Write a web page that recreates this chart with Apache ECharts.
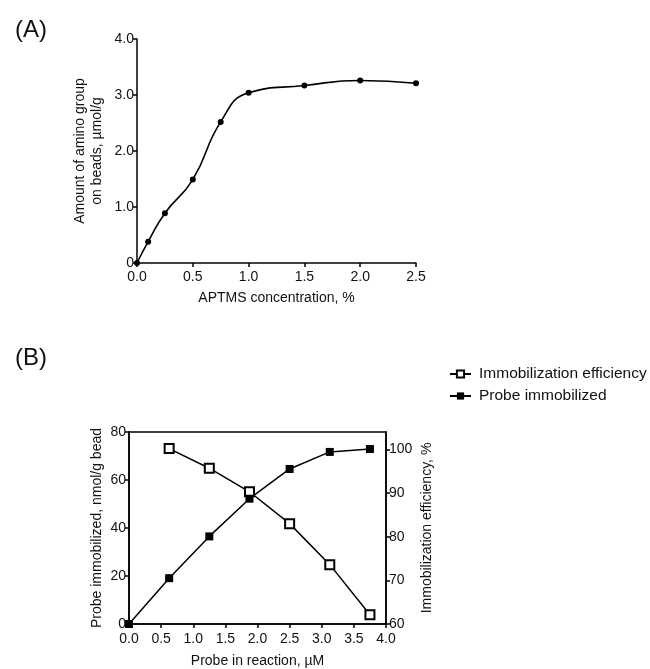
<!DOCTYPE html>
<html>
<head>
<meta charset="utf-8">
<script src="https://cdn.jsdelivr.net/npm/echarts@6/dist/echarts.min.js"></script>
<style>
  html, body { margin: 0; padding: 0; background: #fff; }
  #chart { width: 650px; height: 669px; }
</style>
</head>
<body>
<div id="chart"></div>
<script>
// (A) amino group vs APTMS concentration
const aptmsConc = [0, 0.1, 0.25, 0.5, 0.75, 1.0, 1.5, 2.0, 2.5]
const aminoAmount = [0, 0.38, 0.89, 1.49, 2.52, 3.04, 3.17, 3.26, 3.21]

// (B) probe immobilization
const probeConc = [0, 0.625, 1.25, 1.875, 2.5, 3.125, 3.75]
const probeImmobilized = [0, 19.1, 36.5, 52.2, 64.6, 71.7, 72.9]
const effConc = [0.625, 1.25, 1.875, 2.5, 3.125, 3.75]
const efficiency = [100.2, 95.7, 90.3, 83.0, 73.6, 62.1]

const font = 'Liberation Sans, Arial, sans-serif'
const ink = '#111'

function pairs(xs, ys) {
  return xs.map((x, i) => [x, ys[i]])
}

// 常用轴样式
function axisStyle(extra) {
  return Object.assign({
    axisLine: { show: true, onZero: false, lineStyle: { color: '#000', width: 1.5 } },
    axisTick: { show: true, inside: false, length: 4, lineStyle: { color: '#000', width: 1.5 } },
    splitLine: { show: false },
    axisLabel: { color: ink, fontFamily: font, fontSize: 14, margin: 3 },
    nameTextStyle: { color: ink, fontFamily: font, fontSize: 14 },
    nameLocation: 'middle'
  }, extra)
}

const chart = echarts.init(document.getElementById('chart'), null, { renderer: 'canvas' })

chart.setOption({
  backgroundColor: '#fff',
  animation: false,
  title: [
    { text: '(A)', left: 10, top: 13, textStyle: { fontFamily: font, fontSize: 24, fontWeight: 'normal', color: ink } },
    { text: '(B)', left: 10, top: 341, textStyle: { fontFamily: font, fontSize: 24, fontWeight: 'normal', color: ink } }
  ],
  legend: {
    orient: 'vertical',
    left: 444,
    top: 361,
    itemGap: 6,
    itemWidth: 21,
    itemHeight: 9,
    textStyle: { fontFamily: font, fontSize: 15.5, color: ink, padding: [0, 0, 0, 3] },
    data: ['Immobilization efficiency', 'Probe immobilized']
  },
  grid: [
    { left: 137, top: 39, width: 279, height: 224, containLabel: false },
    { left: 129, top: 432, width: 257, height: 192, containLabel: false, show: true, borderColor: '#000', borderWidth: 1.5 }
  ],
  xAxis: [
    axisStyle({
      gridIndex: 0, type: 'value', min: 0, max: 2.5, interval: 0.5,
      name: 'APTMS concentration, %', nameGap: 28,
      axisLabel: { color: ink, fontFamily: font, fontSize: 14, margin: 7, formatter: v => v.toFixed(1) }
    }),
    axisStyle({
      gridIndex: 1, type: 'value', min: 0, max: 4, interval: 0.5,
      name: 'Probe in reaction, µM', nameGap: 30,
      axisLabel: { color: ink, fontFamily: font, fontSize: 14, margin: 8, formatter: v => v.toFixed(1) }
    })
  ],
  yAxis: [
    axisStyle({
      gridIndex: 0, type: 'value', min: 0, max: 4, interval: 1,
      name: 'Amount of amino group\non beads, µmol/g', nameGap: 31,
      nameTextStyle: { color: ink, fontFamily: font, fontSize: 14, lineHeight: 17 },
      axisLabel: { color: ink, fontFamily: font, fontSize: 14, margin: 3, formatter: v => v === 0 ? '0' : v.toFixed(1) }
    }),
    axisStyle({
      gridIndex: 1, type: 'value', min: 0, max: 80, interval: 20,
      name: 'Probe immobilized, nmol/g bead', nameGap: 25
    }),
    axisStyle({
      gridIndex: 1, type: 'value', position: 'right', min: 60, max: 104, interval: 10,
      name: 'Immobilization efficiency, %', nameGap: 34,
      axisLabel: { color: ink, fontFamily: font, fontSize: 14, margin: 3, showMaxLabel: false,
        formatter: v => v > 100 ? '' : String(v) }
    })
  ],
  series: [
    {
      type: 'line', xAxisIndex: 0, yAxisIndex: 0,
      data: pairs(aptmsConc, aminoAmount),
      smooth: 0.5,
      symbol: 'circle', symbolSize: 6,
      lineStyle: { color: '#000', width: 1.6 },
      itemStyle: { color: '#000' }
    },
    {
      name: 'Immobilization efficiency',
      type: 'line', xAxisIndex: 1, yAxisIndex: 2,
      data: pairs(effConc, efficiency),
      symbol: 'rect', symbolSize: 9,
      lineStyle: { color: '#000', width: 1.5 },
      itemStyle: { color: '#fff', borderColor: '#000', borderWidth: 2 }
    },
    {
      name: 'Probe immobilized',
      type: 'line', xAxisIndex: 1, yAxisIndex: 1,
      data: pairs(probeConc, probeImmobilized),
      symbol: 'rect', symbolSize: 8,
      lineStyle: { color: '#000', width: 1.5 },
      itemStyle: { color: '#000' }
    }
  ]
})
</script>
</body>
</html>
